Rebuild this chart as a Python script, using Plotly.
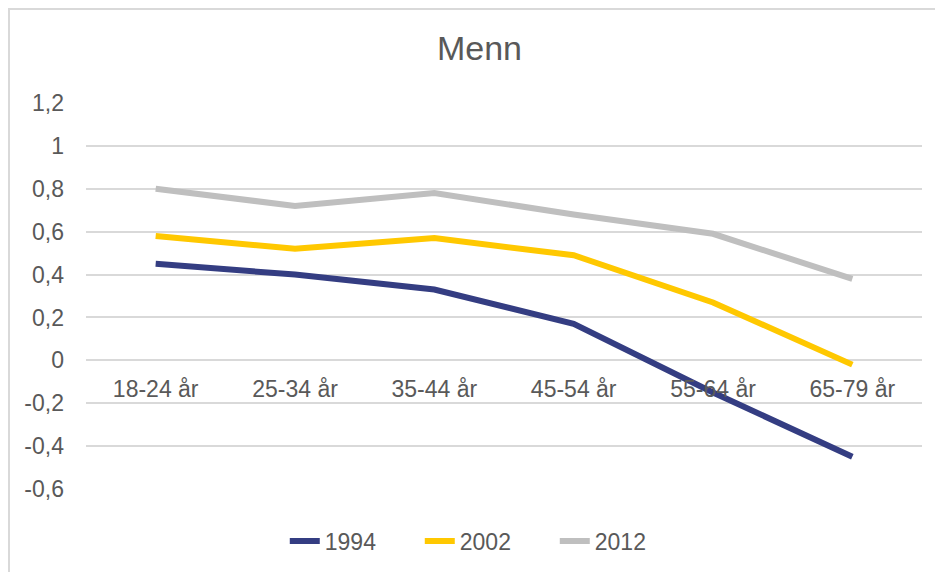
import plotly.graph_objects as go

# Aldersgrupper (x-axis categories)
age_groups = ["18-24 år", "25-34 år", "35-44 år", "45-54 år", "55-64 år", "65-79 år"]

# Values for each survey year
men_1994 = [0.45, 0.40, 0.33, 0.17, -0.15, -0.45]
men_2002 = [0.58, 0.52, 0.57, 0.49, 0.27, -0.02]
men_2012 = [0.80, 0.72, 0.78, 0.68, 0.59, 0.38]

y_tickvals = [-0.6, -0.4, -0.2, 0, 0.2, 0.4, 0.6, 0.8, 1.0, 1.2]
y_ticktext = ["-0,6", "-0,4", "-0,2", "0", "0,2", "0,4", "0,6", "0,8", "1", "1,2"]

series = [
    ("1994", men_1994, "#343D82"),
    ("2002", men_2002, "#FFC800"),
    ("2012", men_2012, "#BFBFBF"),
]

FONT = "Liberation Sans, Arial, sans-serif"
GREY_TEXT = "#595959"
GRID = "#D9D9D9"

fig = go.Figure()
for name, values, color in series:
    fig.add_trace(go.Scatter(
        x=age_groups,
        y=values,
        name=name,
        mode="lines",
        line=dict(color=color, width=6),
    ))

y_min, y_max = -0.6, 1.2
# put the category axis where y = 0, like the Excel original
zero_pos = (0 - y_min) / (y_max - y_min)

# the page body adds ~8px, so margins are a bit smaller than the target offsets
L, T, R, B = 78, 95, 29, 91
plot_w, plot_h = 943 - L - R, 572 - T - B

fig.update_layout(
    width=943,
    height=572,
    margin=dict(l=L, r=R, t=T, b=B),
    paper_bgcolor="white",
    plot_bgcolor="white",
    font=dict(family=FONT, color=GREY_TEXT, size=23),
    title=dict(text="Menn", x=0.5, xanchor="center", y=0.93, yanchor="middle",
               font=dict(size=34, color=GREY_TEXT)),
    showlegend=True,
    legend=dict(orientation="h", x=0.48, xanchor="center", y=-0.135, yanchor="middle",
                font=dict(size=23, color=GREY_TEXT), itemwidth=30,
                entrywidth=90, bgcolor="rgba(0,0,0,0)"),
    xaxis=dict(
        type="category",
        range=[-0.5, 5.5],
        anchor="free",
        position=zero_pos,
        showgrid=False,
        showline=False,
        zeroline=False,
        ticks="",
        ticklabelstandoff=13,
        tickfont=dict(size=23, color=GREY_TEXT),
    ),
    yaxis=dict(
        range=[y_min, y_max],
        tickvals=y_tickvals,
        ticktext=y_ticktext,
        showgrid=True,
        gridcolor=GRID,
        gridwidth=1.5,
        zeroline=True,
        zerolinecolor=GRID,
        zerolinewidth=1.5,
        showline=False,
        ticks="",
        ticklabelstandoff=21,
        tickfont=dict(size=23, color=GREY_TEXT),
    ),
)

# outer chart-area border (light grey frame, open at right/bottom of crop)
fig.add_shape(type="rect", xref="paper", yref="paper",
              x0=(1 - L) / plot_w, x1=1.2, y0=-0.3, y1=(plot_h + T - 1) / plot_h,
              line=dict(color=GRID, width=2), fillcolor="rgba(0,0,0,0)", layer="below")

fig.write_html("out.html")
